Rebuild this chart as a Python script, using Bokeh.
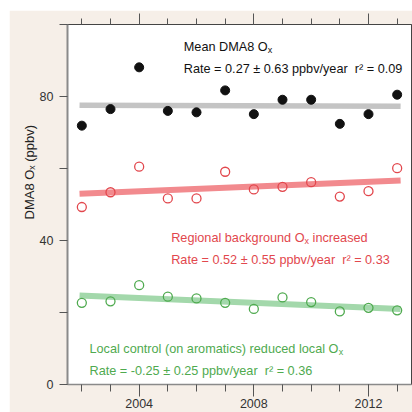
from bokeh.plotting import figure
from bokeh.models import Label, LinearAxis, FixedTicker, Title, Spacer
from bokeh.layouts import row, column
from bokeh.embed import file_html
from bokeh.resources import INLINE

# ---- data ----
years = [2002, 2003, 2004, 2005, 2006, 2007, 2008, 2009, 2010, 2011, 2012, 2013]
mean_ox = [71.9, 76.5, 88.1, 76.0, 75.6, 81.7, 75.1, 79.1, 79.1, 72.4, 75.1, 80.5]
regional_ox = [49.3, 53.4, 60.5, 51.7, 51.7, 59.1, 54.2, 54.9, 56.2, 52.2, 53.7, 60.1]
local_ox = [22.7, 23.1, 27.6, 24.4, 23.9, 22.7, 21.0, 24.2, 22.9, 20.3, 21.3, 20.6]
trend_years = [2001.92, 2013.12]
mean_trend = [77.6, 77.3]
regional_trend = [53.0, 56.7]
local_trend = [24.7, 21.0]
y_major = [0, 40, 80]
y_minor = [20, 60, 100]
x_major = [2004, 2008, 2012]
x_minor = years

X0, X1, Y0, Y1 = 2001.5, 2013.5, 0, 100
FONT = "Liberation Sans"
BLACK = "#111111"
RED = "#e2474d"
GREEN = "#4faa4f"

p = figure(width=403, height=402, x_range=(X0, X1), y_range=(Y0, Y1),
           output_backend="svg", toolbar_location=None,
           x_axis_location=None, y_axis_location=None,
           min_border_left=58, min_border_right=1, min_border_top=14, min_border_bottom=28,
           background_fill_color="white", border_fill_color="#f6efe8")
p.grid.visible = False
p.outline_line_color = "#444444"
p.outline_line_width = 1

bottom = LinearAxis(ticker=FixedTicker(ticks=x_major, minor_ticks=x_minor))
top = LinearAxis(ticker=FixedTicker(ticks=x_major, minor_ticks=x_minor))
left = LinearAxis(ticker=FixedTicker(ticks=y_major, minor_ticks=y_minor))

for ax in (bottom, top):
    ax.major_tick_out = 12
    ax.major_tick_in = 0
    ax.minor_tick_out = 7
    ax.minor_tick_in = 0
    ax.major_tick_line_color = "#555555"
    ax.minor_tick_line_color = "#555555"
bottom.axis_line_color = "#8a8a8a"
bottom.axis_line_width = 1.5
bottom.major_label_text_font = FONT
bottom.major_label_text_font_size = "12.5px"
bottom.major_label_text_color = "#333333"
bottom.major_label_standoff = 2
top.axis_line_color = "#444444"
top.axis_line_width = 1.2
top.major_label_text_font_size = "1px"
top.major_label_text_color = None
top.major_label_standoff = 0
top.major_tick_out = 11
top.minor_tick_out = 6

left.major_tick_out = 8
left.major_tick_in = 0
left.minor_tick_out = 8
left.minor_tick_in = 0
left.major_tick_line_color = "#555555"
left.minor_tick_line_color = "#555555"
left.axis_line_color = "#8a8a8a"
left.axis_line_width = 2
left.major_label_text_font = FONT
left.major_label_text_font_size = "12.5px"
left.major_label_text_color = "#333333"
left.major_label_standoff = 6

p.add_layout(bottom, "below")
p.add_layout(top, "above")
p.add_layout(left, "left")

ytitle = Title(text="DMA8 O\u2093 (ppbv)", align="left", offset=165,
               text_font=FONT, text_font_size="13px", text_font_style="normal",
               text_color="#222222", standoff=0)
p.add_layout(ytitle, "left")

# trend lines
p.line(trend_years, mean_trend, line_color="#c4c4c4", line_width=5.5)
p.line(trend_years, regional_trend, line_color="#f28a8e", line_width=6)
p.line(trend_years, local_trend, line_color="#a3d8ab", line_width=6)

# points
p.scatter(years, mean_ox, size=9, marker="circle", fill_color=BLACK, line_color=BLACK)
p.scatter(years, regional_ox, size=9, marker="circle", fill_color=None, line_color=RED, line_width=1.3)
p.scatter(years, local_ox, size=9, marker="circle", fill_color=None, line_color=GREEN, line_width=1.3)

# ---- annotations (positions given in page pixels, converted to data) ----
L, R, T, B = 67, 411, 24, 384
def dx(px):
    return X0 + (px - L) * (X1 - X0) / (R - L)
def dy(py):
    return Y0 + (B - py) * (Y1 - Y0) / (B - T)

FS = 12.7
def txt(s, px, py, color, size=FS):
    p.add_layout(Label(x=dx(px), y=dy(py), text=s, text_font=FONT,
                       text_font_size=f"{size}px", text_color=color,
                       text_align="left", text_baseline="alphabetic"))

SUB = 9
# black
txt("Mean DMA8 O", 183.3, 46.7, BLACK)
txt("x", 183.3 + 6.613 * FS, 49.7, BLACK, SUB)
txt("Rate = 0.27 \u00b1 0.63 ppbv/year \u00a0r\u00b2 = 0.09", 183.3, 68.3, BLACK)
# red
txt("Regional background O", 170.7, 237.3, RED)
txt("x", 170.7 + 10.505 * FS, 240.3, RED, SUB)
txt("increased", 170.7 + 10.505 * FS + 4.5 + 3.5, 237.3, RED)
txt("Rate = 0.52 \u00b1 0.55 ppbv/year \u00a0r\u00b2 = 0.33", 170.7, 259.3, RED)
# green
txt("Local control (on aromatics) reduced local O", 89, 348.3, GREEN)
txt("x", 89 + 19.618 * FS, 351.3, GREEN, SUB)
txt("Rate = -0.25 \u00b1 0.25 ppbv/year \u00a0r\u00b2 = 0.36", 89, 370.7, GREEN)

layout = row(Spacer(width=9, height=412), column(Spacer(width=403, height=10), p))
open("out.html", "w").write(file_html(layout, INLINE))
